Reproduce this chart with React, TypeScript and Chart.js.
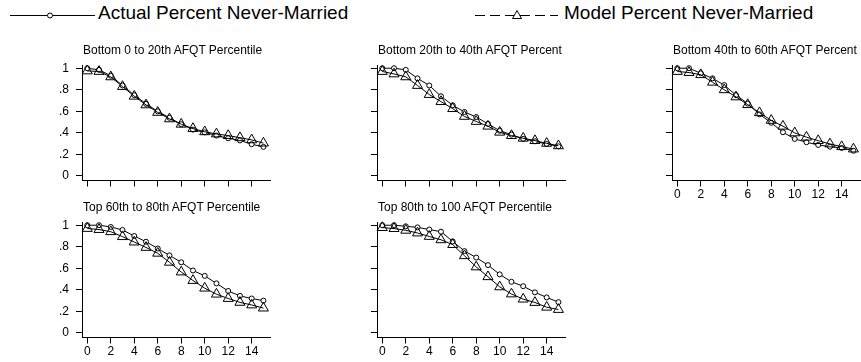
import React, { useEffect, useRef } from "react";
import { Chart, registerables } from "chart.js";

Chart.register(...registerables);

const FONT = '"Liberation Sans", Arial, Helvetica, sans-serif';

// ---- data ----
const xValues = [0, 1, 2, 3, 4, 5, 6, 7, 8, 9, 10, 11, 12, 13, 14, 15];
const xTickValues = [0, 2, 4, 6, 8, 10, 12, 14];
const yTickValues = [0, 0.2, 0.4, 0.6, 0.8, 1];
const yTickLabels = ["0", ".2", ".4", ".6", ".8", "1"];

const legendActual = "Actual Percent Never-Married";
const legendModel = "Model Percent Never-Married";

const title1 = "Bottom 0 to 20th AFQT Percentile";
const title2 = "Bottom 20th to 40th AFQT Percent";
const title3 = "Bottom 40th to 60th AFQT Percent";
const title4 = "Top 60th to 80th AFQT Percentile";
const title5 = "Top 80th to 100 AFQT Percentile";

const actual1 = [1.0, 0.985, 0.93, 0.84, 0.75, 0.67, 0.6, 0.54, 0.48, 0.43, 0.405, 0.375, 0.35, 0.33, 0.295, 0.27];
const model1 = [0.975, 0.97, 0.92, 0.83, 0.74, 0.66, 0.59, 0.53, 0.48, 0.44, 0.41, 0.39, 0.375, 0.355, 0.335, 0.305];

const actual2 = [1.0, 1.0, 0.985, 0.906, 0.84, 0.74, 0.656, 0.594, 0.547, 0.484, 0.42, 0.384, 0.344, 0.322, 0.297, 0.275];
const model2 = [0.97, 0.947, 0.92, 0.84, 0.756, 0.69, 0.625, 0.553, 0.506, 0.462, 0.406, 0.375, 0.35, 0.328, 0.303, 0.28];

const actual3 = [1.0, 1.0, 0.953, 0.906, 0.844, 0.75, 0.672, 0.572, 0.494, 0.406, 0.344, 0.313, 0.288, 0.272, 0.26, 0.234];
const model3 = [0.97, 0.96, 0.94, 0.87, 0.8, 0.734, 0.662, 0.587, 0.516, 0.462, 0.4, 0.36, 0.328, 0.297, 0.272, 0.25];

const actual4 = [1.0, 1.0, 0.984, 0.956, 0.9, 0.847, 0.784, 0.72, 0.656, 0.58, 0.53, 0.46, 0.39, 0.344, 0.32, 0.3];
const model4 = [0.97, 0.96, 0.94, 0.894, 0.844, 0.794, 0.74, 0.656, 0.566, 0.487, 0.416, 0.36, 0.32, 0.284, 0.26, 0.231];

const actual5 = [1.0, 1.0, 0.99, 0.98, 0.96, 0.94, 0.85, 0.76, 0.7, 0.63, 0.544, 0.475, 0.434, 0.377, 0.33, 0.286];
const model5 = [0.978, 0.969, 0.953, 0.928, 0.896, 0.865, 0.82, 0.717, 0.613, 0.522, 0.428, 0.362, 0.314, 0.283, 0.239, 0.218];

// ---- layout ----
const CANVAS_W = 295;
const CANVAS_H = 170;
const COL_LEFT = [0, 295, 590];
const ROW_TOP = [35, 192];

type PanelProps = {
  title: string;
  actual: number[];
  model: number[];
  col: number;
  row: number;
  showX: boolean;
  showY: boolean;
};

function Panel({ title, actual, model, col, row, showX, showY }: PanelProps) {
  const ref = useRef<HTMLCanvasElement | null>(null);
  useEffect(() => {
    const canvas = ref.current;
    if (!canvas) return;
    const chart = new Chart(canvas, {
      type: "line",
      data: {
        datasets: [
          {
            label: legendModel,
            data: xValues.map((x, i) => ({ x, y: model[i] })),
            borderColor: "#000",
            borderWidth: 1,
            pointStyle: "triangle",
            pointRadius: 5.8,
            pointBorderColor: "#000",
            pointBackgroundColor: "rgba(0,0,0,0)",
            pointBorderWidth: 1,
            tension: 0,
            fill: false,
            clip: false as any,
          },
          {
            label: legendActual,
            data: xValues.map((x, i) => ({ x, y: actual[i] })),
            borderColor: "#000",
            borderWidth: 1,
            pointStyle: "circle",
            pointRadius: 2.5,
            pointBorderColor: "#000",
            pointBackgroundColor: "#fff",
            pointBorderWidth: 1,
            tension: 0,
            fill: false,
            clip: false as any,
          },
        ],
      },
      options: {
        responsive: false,
        animation: false,
        events: [],
        layout: { padding: { left: 0, right: 25, top: 30, bottom: 0 }, autoPadding: false } as any,
        plugins: {
          legend: { display: false },
          tooltip: { enabled: false },
          title: { display: false },
        },
        scales: {
          x: {
            type: "linear",
            min: -0.45,
            max: 15.56,
            afterBuildTicks: (s: any) => {
              s.ticks = xTickValues.map((v) => ({ value: v }));
            },
            afterFit: (s: any) => {
              s.height = 24.5;
            },
            grid: {
              display: true,
              drawOnChartArea: false,
              drawTicks: true,
              tickLength: 6,
              color: "#000",
              lineWidth: 1,
            },
            border: { display: true, color: "#000", width: 1 },
            ticks: {
              display: showX,
              padding: 1,
              color: "#000",
              font: { family: FONT, size: 12 },
              maxRotation: 0,
              autoSkip: false,
              callback: (v: any) => String(v),
            },
          },
          y: {
            type: "linear",
            min: -0.042,
            max: 1.03,
            afterBuildTicks: (s: any) => {
              s.ticks = yTickValues.map((v) => ({ value: v }));
            },
            afterFit: (s: any) => {
              s.width = 82;
            },
            grid: {
              display: true,
              drawOnChartArea: false,
              drawTicks: true,
              tickLength: 6,
              color: "#000",
              lineWidth: 1,
            },
            border: { display: true, color: "#000", width: 1 },
            ticks: {
              display: showY,
              padding: 7,
              color: "#000",
              font: { family: FONT, size: 12 },
              autoSkip: false,
              callback: (_v: any, i: number) => yTickLabels[i],
            },
          },
        },
      },
    });
    return () => chart.destroy();
  }, [actual, model, showX, showY]);

  const left = COL_LEFT[col];
  const top = ROW_TOP[row];
  return (
    <>
      <canvas
        ref={ref}
        width={CANVAS_W}
        height={CANVAS_H}
        style={{ position: "absolute", left, top, width: CANVAS_W, height: CANVAS_H, display: "block" }}
      />
      <div
        style={{
          position: "absolute",
          left: left + 83,
          top: top + 8,
          font: `12px ${FONT}`,
          lineHeight: "14px",
          whiteSpace: "nowrap",
          color: "#000",
        }}
      >
        {title}
      </div>
    </>
  );
}

export default function App() {
  return (
    <div
      style={{
        position: "absolute",
        left: 0,
        top: 0,
        width: 861,
        height: 362,
        overflow: "hidden",
        background: "#fff",
        fontFamily: FONT,
      }}
    >
      <svg width={861} height={30} style={{ position: "absolute", left: 0, top: 0 }}>
        <line x1={10} y1={15.5} x2={95} y2={15.5} stroke="#000" strokeWidth={1} />
        <circle cx={50} cy={15.5} r={2.5} fill="#fff" stroke="#000" strokeWidth={1} />
        <line x1={475} y1={15.5} x2={558} y2={15.5} stroke="#000" strokeWidth={1} strokeDasharray="10 5" />
        <polygon points="517,10.5 521.5,18.5 512.5,18.5" fill="#fff" stroke="#000" strokeWidth={1} />
      </svg>
      <div style={{ position: "absolute", left: 98, top: 2, font: `19px ${FONT}`, lineHeight: "22px", whiteSpace: "nowrap" }}>
        {legendActual}
      </div>
      <div style={{ position: "absolute", left: 564, top: 2, font: `19px ${FONT}`, lineHeight: "22px", whiteSpace: "nowrap" }}>
        {legendModel}
      </div>
      <Panel title={title1} actual={actual1} model={model1} col={0} row={0} showX={false} showY={true} />
      <Panel title={title2} actual={actual2} model={model2} col={1} row={0} showX={false} showY={false} />
      <Panel title={title3} actual={actual3} model={model3} col={2} row={0} showX={true} showY={false} />
      <Panel title={title4} actual={actual4} model={model4} col={0} row={1} showX={true} showY={true} />
      <Panel title={title5} actual={actual5} model={model5} col={1} row={1} showX={true} showY={false} />
    </div>
  );
}
